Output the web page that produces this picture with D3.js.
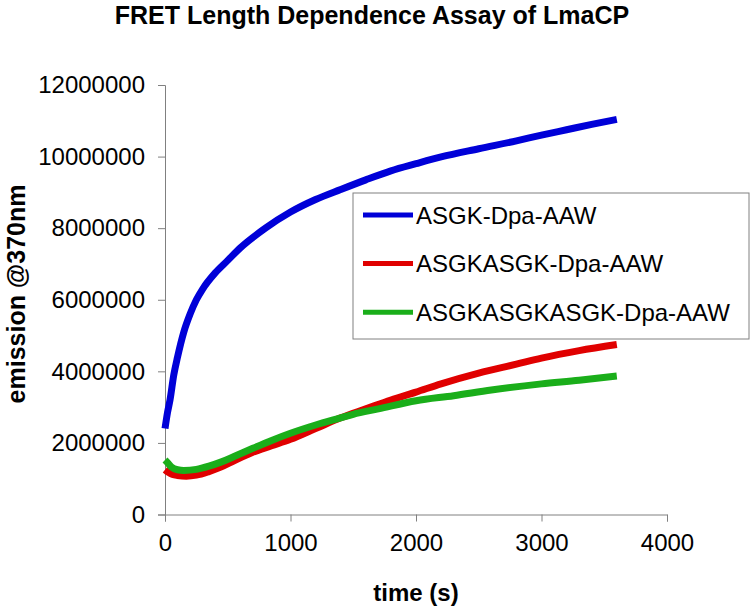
<!DOCTYPE html>
<html><head><meta charset="utf-8">
<script src="https://cdn.jsdelivr.net/npm/d3@7"></script>
<style>body{margin:0;background:#fff}svg{display:block}</style>
</head><body>
<svg id="c" width="750" height="608"></svg>
<script>
const title = "FRET Length Dependence Assay of LmaCP";
const xTitle = "time (s)";
const yTitle = "emission @370nm";
const xTicks = [0, 1000, 2000, 3000, 4000];
const yTicks = [0, 2000000, 4000000, 6000000, 8000000, 10000000, 12000000];
const seriesNames = ["ASGK-Dpa-AAW", "ASGKASGK-Dpa-AAW", "ASGKASGKASGK-Dpa-AAW"];
const seriesColors = ["#0000d8", "#e00000", "#1aae1a"];

const blueT = [0, 20, 40, 70, 100, 150, 200, 250, 300, 400, 500, 600, 800, 1000, 1200, 1400, 1600, 1800, 2000, 2200, 2500, 2800, 3000, 3200, 3400, 3600];
const blueV = [2400000, 2850000, 3200000, 3900000, 4400000, 5100000, 5600000, 6000000, 6300000, 6750000, 7100000, 7450000, 8000000, 8450000, 8800000, 9080000, 9350000, 9600000, 9800000, 9990000, 10220000, 10440000, 10600000, 10750000, 10900000, 11040000];
const redT = [0, 30, 60, 100, 170, 250, 350, 450, 550, 700, 850, 1000, 1200, 1400, 1600, 1800, 2000, 2200, 2500, 2800, 3000, 3300, 3600];
const redV = [1250000, 1170000, 1120000, 1090000, 1070000, 1100000, 1200000, 1330000, 1500000, 1740000, 1920000, 2100000, 2400000, 2700000, 2950000, 3200000, 3420000, 3650000, 3950000, 4200000, 4370000, 4580000, 4750000];
const greenT = [0, 20, 50, 100, 150, 250, 350, 450, 550, 700, 850, 1000, 1200, 1400, 1500, 1700, 2000, 2300, 2600, 3000, 3300, 3600];
const greenV = [1520000, 1450000, 1330000, 1250000, 1230000, 1260000, 1350000, 1470000, 1620000, 1850000, 2070000, 2270000, 2500000, 2700000, 2800000, 2950000, 3180000, 3320000, 3480000, 3650000, 3750000, 3870000];

const series = [
  blueT.map((t, i) => [t, blueV[i]]),
  redT.map((t, i) => [t, redV[i]]),
  greenT.map((t, i) => [t, greenV[i]])
];

const svg = d3.select("#c");
const font = "'Liberation Sans', Arial, sans-serif";
const pLeft = 165, pRight = 667, pTop = 85, pBottom = 514.5;
const x = d3.scaleLinear().domain([0, 4000]).range([pLeft, pRight]);
const y = d3.scaleLinear().domain([0, 12000000]).range([pBottom, pTop]);

svg.append("text").attr("x", 372).attr("y", 24).attr("text-anchor", "middle")
  .attr("font-family", font).attr("font-weight", "bold").attr("font-size", 25).text(title);

const gx = svg.append("g").attr("transform", `translate(0,${pBottom})`)
  .call(d3.axisBottom(x).tickValues(xTicks).tickSizeOuter(0).tickSize(7).tickPadding(12).tickFormat(d3.format("d")));
const gy = svg.append("g").attr("transform", `translate(${pLeft},0)`)
  .call(d3.axisLeft(y).tickValues(yTicks).tickSizeOuter(0).tickSize(7).tickPadding(13).tickFormat(d3.format("d")));
[gx, gy].forEach(g => {
  g.selectAll("path,line").attr("stroke", "#808080").attr("stroke-width", 1);
  g.selectAll("text").attr("font-family", font).attr("font-size", 24).attr("fill", "#000");
});

svg.append("text").attr("x", 416).attr("y", 601).attr("text-anchor", "middle")
  .attr("font-family", font).attr("font-weight", "bold").attr("font-size", 24).text(xTitle);
svg.append("text").attr("transform", "translate(25,294) rotate(-90)").attr("text-anchor", "middle")
  .attr("font-family", font).attr("font-weight", "bold").attr("font-size", 25).text(yTitle);

const line = d3.line().x(d => x(d[0])).y(d => y(d[1])).curve(d3.curveMonotoneX);
series.forEach((s, i) => {
  svg.append("path").datum(s).attr("d", line).attr("fill", "none")
    .attr("stroke", seriesColors[i]).attr("stroke-width", 7).attr("stroke-linejoin", "round");
});

const lg = svg.append("g");
lg.append("rect").attr("x", 353).attr("y", 193).attr("width", 396).attr("height", 146)
  .attr("fill", "#fff").attr("stroke", "#808080").attr("stroke-width", 1);
seriesNames.forEach((n, i) => {
  const yy = 215 + i * 48.6;
  lg.append("line").attr("x1", 363).attr("x2", 413).attr("y1", yy).attr("y2", yy)
    .attr("stroke", seriesColors[i]).attr("stroke-width", 5);
  lg.append("text").attr("x", 416).attr("y", yy + 8.5).attr("font-family", font)
    .attr("font-size", 24).text(n);
});
</script>
</body></html>
